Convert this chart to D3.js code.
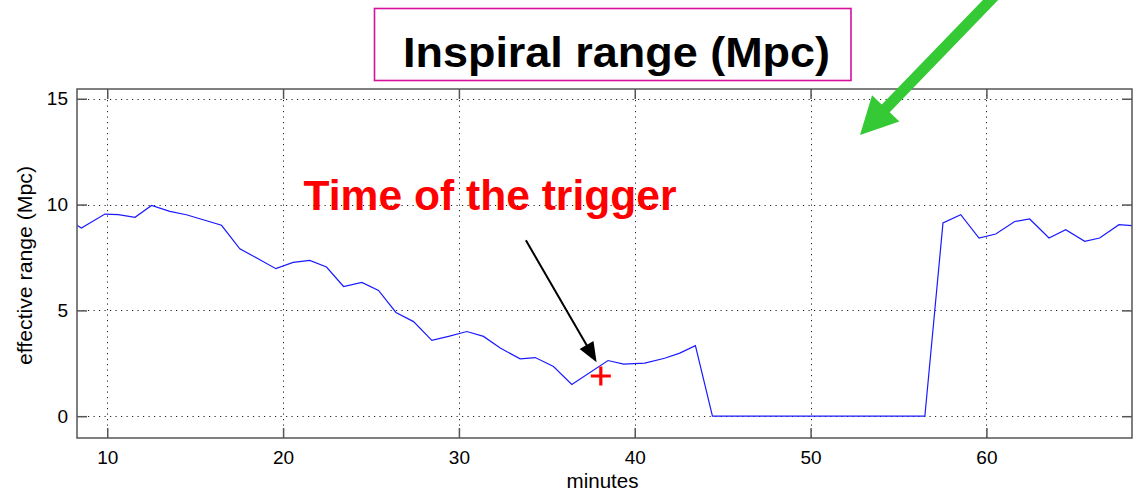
<!DOCTYPE html>
<html>
<head>
<meta charset="utf-8">
<script src="https://cdn.jsdelivr.net/npm/d3@7"></script>
<style>
  html, body { margin: 0; padding: 0; background: #fff; }
  svg { display: block; font-family: "Liberation Sans", Arial, Helvetica, sans-serif; }
</style>
</head>
<body>
<svg id="chart" width="1133" height="492"></svg>
<script>
// ---- data ----
const minutes = [8.28, 8.53, 9.87, 10.63, 11.58, 12.52, 13.56, 14.5, 16.5, 17.54, 18.58, 19.59,
  20.57, 21.52, 22.47, 23.44, 24.48, 25.43, 26.42, 27.42, 28.46, 29.41, 30.45, 31.4, 32.35,
  33.48, 34.34, 35.38, 36.42, 38.48, 39.37, 40.57, 41.7, 42.56, 43.45, 44.42, 56.5, 57.53,
  58.54, 59.58, 60.53, 61.61, 62.46, 63.56, 64.51, 65.59, 66.44, 67.54, 68.28];
const rangeMpc = [9.02, 8.89, 9.55, 9.52, 9.40, 9.96, 9.68, 9.52, 9.02, 7.91, 7.44, 6.97,
  7.27, 7.36, 7.05, 6.13, 6.32, 5.94, 4.90, 4.47, 3.58, 3.77, 4.00, 3.77, 3.22,
  2.71, 2.77, 2.35, 1.50, 2.63, 2.46, 2.51, 2.74, 2.98, 3.33, 0, 0, 9.13,
  9.52, 8.42, 8.61, 9.20, 9.32, 8.42, 8.81, 8.26, 8.42, 9.05, 9.00];
const xTicks = [10, 20, 30, 40, 50, 60];
const yTicks = [0, 5, 10, 15];
const triggerPoint = [38.07, 1.9];
const titleText = "Inspiral range (Mpc)";
const annotationText = "Time of the trigger";
const xLabel = "minutes";
const yLabel = "effective range (Mpc)";

// ---- layout ----
const plot = { left: 77, top: 89, right: 1132, bottom: 438 };
const svg = d3.select("#chart");

const x = d3.scaleLinear().domain([8.28, 68.28]).range([plot.left, plot.right]);
const y = d3.scaleLinear().domain([-1.03, 15.46]).range([plot.bottom, plot.top]);
const W = plot.right - plot.left, H = plot.bottom - plot.top;

// grid
const grid = svg.append("g").attr("stroke", "#222").attr("stroke-width", 1)
  .attr("stroke-dasharray", "1.2,4.3");
grid.selectAll(".gx").data(xTicks).join("line")
  .attr("x1", d => Math.round(x(d)) + 0.5).attr("x2", d => Math.round(x(d)) + 0.5)
  .attr("y1", plot.top).attr("y2", plot.bottom);
grid.selectAll(".gy").data(yTicks).join("line")
  .attr("y1", d => Math.round(y(d)) + 0.5).attr("y2", d => Math.round(y(d)) + 0.5)
  .attr("x1", plot.left).attr("x2", plot.right);

// clip
svg.append("clipPath").attr("id", "clip").append("rect")
  .attr("x", plot.left).attr("y", plot.top).attr("width", W).attr("height", H);

// data line
const pts = minutes.map((m, i) => [m, rangeMpc[i]]);
svg.append("path").datum(pts)
  .attr("clip-path", "url(#clip)")
  .attr("fill", "none").attr("stroke", "#1a1aff").attr("stroke-width", 1.2)
  .attr("d", d3.line().x(d => x(d[0])).y(d => y(d[1])));

// axes (ticks inside, mirrored)
const frameColor = "#555";
const axB = svg.append("g").attr("transform", `translate(0,${plot.bottom})`)
  .call(d3.axisBottom(x).tickValues(xTicks).tickSize(-10).tickPadding(13).tickFormat(d3.format("d")));
const axT = svg.append("g").attr("transform", `translate(0,${plot.top})`)
  .call(d3.axisTop(x).tickValues(xTicks).tickSize(-10).tickFormat(""));
const axL = svg.append("g").attr("transform", `translate(${plot.left},0)`)
  .call(d3.axisLeft(y).tickValues(yTicks).tickSize(-10).tickPadding(9).tickFormat(d3.format("d")));
const axR = svg.append("g").attr("transform", `translate(${plot.right},0)`)
  .call(d3.axisRight(y).tickValues(yTicks).tickSize(-10).tickFormat(""));
[axB, axT, axL, axR].forEach(a => {
  a.select(".domain").remove();
  a.selectAll(".tick line").attr("stroke", frameColor).attr("stroke-width", 1.5);
  a.selectAll(".tick text").attr("fill", "#000").attr("font-size", 19)
    .attr("font-family", "Liberation Sans, Arial, sans-serif");
});
axB.selectAll(".tick text").attr("dy", "0.71em");
svg.append("rect").attr("x", plot.left).attr("y", plot.top).attr("width", W).attr("height", H)
  .attr("fill", "none").attr("stroke", frameColor).attr("stroke-width", 1.5);

// axis labels
svg.append("text").attr("x", 602.5).attr("y", 488).attr("text-anchor", "middle")
  .attr("font-size", 20).attr("textLength", 72).attr("lengthAdjust", "spacingAndGlyphs")
  .text(xLabel);
svg.append("text").attr("transform", `translate(31.5,265.5) rotate(-90)`)
  .attr("text-anchor", "middle").attr("font-size", 20.5)
  .attr("textLength", 199).attr("lengthAdjust", "spacingAndGlyphs").text(yLabel);

// title box
svg.append("rect").attr("x", 374.5).attr("y", 8.5).attr("width", 476.5).attr("height", 72)
  .attr("fill", "#fff").attr("stroke", "#d4109c").attr("stroke-width", 1.6);
svg.append("text").attr("x", 616.5).attr("y", 66.5).attr("text-anchor", "middle")
  .attr("font-size", 42.5).attr("font-weight", "bold")
  .attr("textLength", 427).attr("lengthAdjust", "spacingAndGlyphs").text(titleText);

// trigger annotation text
svg.append("text").attr("x", 303.5).attr("y", 210).attr("fill", "#ff0000")
  .attr("font-size", 42).attr("font-weight", "bold")
  .attr("textLength", 373).attr("lengthAdjust", "spacingAndGlyphs").text(annotationText);

// arrow helper
function arrow(g, x0, y0, x1, y1, opts) {
  const dx = x1 - x0, dy = y1 - y0, L = Math.hypot(dx, dy);
  const ux = dx / L, uy = dy / L, px = -uy, py = ux;
  const bx = x1 - ux * opts.headLen, by = y1 - uy * opts.headLen;
  g.append("line").attr("x1", x0).attr("y1", y0)
    .attr("x2", bx + ux * 2).attr("y2", by + uy * 2)
    .attr("stroke", opts.color).attr("stroke-width", opts.width);
  g.append("path").attr("fill", opts.color)
    .attr("d", `M${x1},${y1}L${bx + px * opts.headW / 2},${by + py * opts.headW / 2}` +
      `L${bx - px * opts.headW / 2},${by - py * opts.headW / 2}Z`);
}

// black arrow pointing at the trigger
const ann = svg.append("g");
arrow(ann, x(33.81), y(8.31), x(37.83), y(2.55), { color: "#000", width: 2, headLen: 20, headW: 16 });

// trigger marker "+"
const tx = x(triggerPoint[0]), ty = y(triggerPoint[1]);
svg.append("path").attr("stroke", "#ff0000").attr("stroke-width", 3.2).attr("fill", "none")
  .attr("d", `M${tx - 10},${ty}H${tx + 10}M${tx},${ty - 9.5}V${ty + 9.5}`);

// green arrow (top right)
arrow(svg.append("g"), 1006, -16, 860, 135, { color: "#36c936", width: 11, headLen: 37, headW: 38 });
</script>
</body>
</html>
